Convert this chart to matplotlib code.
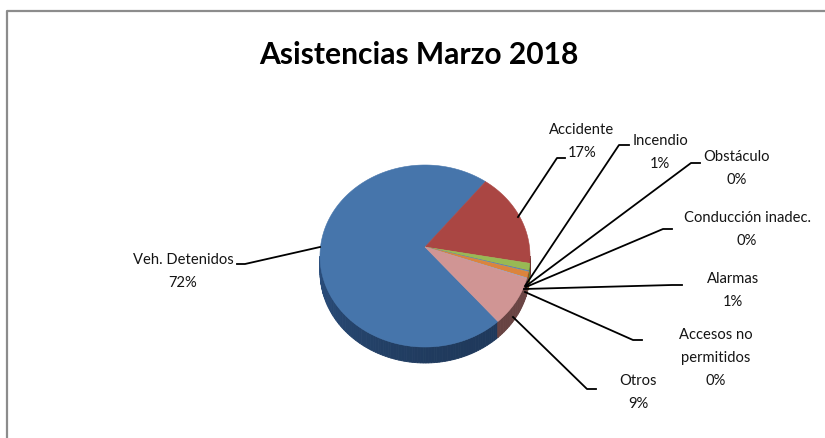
import numpy as np
import matplotlib
matplotlib.use("Agg")
import matplotlib.pyplot as plt

TITLE = "Asistencias Marzo 2018"
categories = ["Veh. Detenidos", "Accidente", "Incendio", "Obstáculo",
              "Conducción inadec.", "Alarmas", "Accesos no\npermitidos", "Otros"]
values = [72.0, 16.5, 1.3, 0.1, 0.1, 1.1, 0.1, 8.8]
percent_labels = ["72%", "17%", "1%", "0%", "0%", "1%", "0%", "9%"]

colors = ["#4675AB", "#AA4643", "#98B954", "#7D60A0", "#46AAC4", "#DB843D", "#93A9CF", "#D09594"]
side_colors = ["#264670", "#7A3230", "#6E8A3A", "#5A4575", "#30788C", "#A0602A", "#6A7C98", "#7E5150"]

# pie geometry in pixels
CX, CY, RX, RY, APEX_Y, DEPTH = 425.0, 256.0, 105.0, 91.0, 247.0, 16.0
START = 136.0  # clockwise from top, where the first slice begins

# label centre (x, first-line y), leader path
label_pos = [(183, 260), (582, 130), (660, 141), (737, 157),
             (747, 218), (733, 279), (716, 335), (638, 381)]
leaders = [
    [(320, 247), (245, 264), (237, 264)],
    [(518, 217), (557, 158), (565, 158)],
    [(525, 286), (619, 145), (629, 145)],
    [(526, 286), (691, 163), (700, 163)],
    [(526, 287), (663, 229), (672, 229)],
    [(524, 289), (672, 285), (682, 285)],
    [(525, 292), (633, 340), (642, 340)],
    [(513, 317), (587, 389), (596, 389)],
]
LINE_STEP = 22.8

plt.rcParams["font.family"] = ["Lato", "DejaVu Sans"]
fig = plt.figure(figsize=(8.25, 4.38), dpi=100, facecolor="white")
ax = fig.add_axes([0, 0, 1, 1])
ax.set_xlim(0, 825)
ax.set_ylim(438, 0)
ax.axis("off")

# chart frame
ax.plot([6.5, 6.5, 825], [438, 10.5, 10.5], color="#8C8C8C", lw=1.6, solid_capstyle="butt")


def rim(deg):
    a = np.radians(deg)
    return CX + RX * np.sin(a), CY - RY * np.cos(a)


def shade(hex_color, f):
    rgb = np.array(matplotlib.colors.to_rgb(hex_color))
    return tuple(np.clip(rgb * f, 0, 1))


fractions = np.array(values) / sum(values) * 360.0
edges = START + np.concatenate([[0], np.cumsum(fractions)])

# side wall, visible between 90 and 270 degrees (clockwise from top)
for i in range(len(values)):
    lo, hi = edges[i], edges[i + 1]
    for shift in (0, 360, -360):
        a0, a1 = max(lo + shift, 90), min(hi + shift, 270)
        if a1 <= a0:
            continue
        steps = np.arange(a0, a1 + 1.5, 1.5)
        steps[-1] = a1
        for s0, s1 in zip(steps[:-1], steps[1:]):
            x0, y0 = rim(s0)
            x1, y1 = rim(s1)
            mid = (s0 + s1) / 2
            f = 1.0 - 0.35 * np.cos(np.radians(mid - 180)) * 0.6 + 0.12 * np.cos(np.radians(mid - 240))
            col = shade(side_colors[i], f)
            ax.fill([x0, x1, x1, x0], [y0, y1, y1 + DEPTH, y0 + DEPTH],
                    color=col, lw=0.6, zorder=2)

# top surface
for i in range(len(values)):
    ang = np.linspace(edges[i], edges[i + 1], max(3, int(fractions[i] * 2)))
    xs, ys = rim(ang)
    ax.fill(np.r_[CX, xs], np.r_[APEX_Y, ys], color=colors[i], lw=0.4, zorder=3)

# leaders
for path in leaders:
    px, py = zip(*path)
    ax.plot(px, py, color="black", lw=1.3, zorder=4, solid_joinstyle="round")

# labels
for name, pct, (x, y) in zip(categories, percent_labels, label_pos):
    lines = name.split("\n") + [pct]
    for k, line in enumerate(lines):
        ax.text(x, y + k * LINE_STEP, line, ha="center", va="center",
                fontsize=10.6, color="#141414", zorder=5)

ax.text(419, 55, TITLE, ha="center", va="center", fontsize=21.6,
        fontweight="bold", color="black", zorder=5)

fig.savefig("out.png", dpi=100, facecolor="white")
